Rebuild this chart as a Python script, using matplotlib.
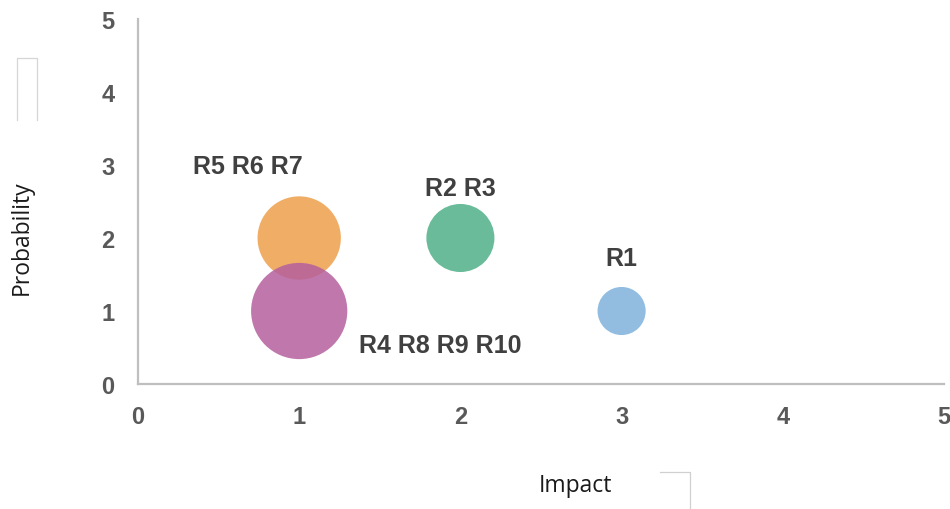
import numpy as np
import matplotlib
matplotlib.use("Agg")
import matplotlib.pyplot as plt
from matplotlib.lines import Line2D

# Risk bubbles: impact (x), probability (y), number of risks (bubble area)
labels = ["R1", "R2 R3", "R5 R6 R7", "R4 R8 R9 R10"]
impact = [3, 2, 1, 1]
probability = [1, 2, 2, 1]
risk_count = [1, 2, 3, 4]
colors = ["#7FB2DC", "#4FB088", "#EE9F4A", "#B5609E"]
ticks = [0, 1, 2, 3, 4, 5]

fig = plt.figure(figsize=(9.5, 5.1), dpi=100)
ax = fig.add_axes([138 / 950, 125 / 510, 806 / 950, 365 / 510])

area_per_risk = 1200
ax.scatter(impact, probability, s=[c * area_per_risk for c in risk_count],
           c=colors, alpha=0.85, linewidths=0, zorder=3)

label_style = dict(fontsize=18, fontweight="bold", color="#404040",
                   family="Liberation Sans")
# Label placement in data offsets from each bubble centre
offsets = [(0.0, 0.73, "center"), (0.0, 0.69, "center"),
           (-0.32, 0.98, "center"), (0.37, -0.47, "left")]
for lab, x, y, (dx, dy, ha) in zip(labels, impact, probability, offsets):
    ax.text(x + dx, y + dy, lab, ha=ha, va="center", **label_style)

ax.set_xlim(0, 5)
ax.set_ylim(0, 5)
ax.set_xticks(ticks)
ax.set_yticks(ticks)
ax.tick_params(length=0, labelsize=17, labelcolor="#595959")
ax.tick_params(axis="x", pad=15)
ax.tick_params(axis="y", pad=17)
for lbl in ax.get_xticklabels() + ax.get_yticklabels():
    lbl.set_fontweight("bold")
    lbl.set_family("Liberation Sans")

for side in ("top", "right"):
    ax.spines[side].set_visible(False)
for side in ("left", "bottom"):
    ax.spines[side].set_color("#BFBFBF")
    ax.spines[side].set_linewidth(1.6)

fig.text(575 / 950, 1 - 486 / 510, "Impact", ha="center", va="center",
         fontsize=16.5, color="#1a1a1a", family="Open Sans")
fig.text(22 / 950, 1 - 238 / 510, "Probability", ha="center", va="center",
         rotation=90, fontsize=16.5, color="#1a1a1a", family="Open Sans")


def px_line(xs, ys, color):
    fig.add_artist(Line2D([x / 950 for x in xs], [1 - y / 510 for y in ys],
                          transform=fig.transFigure, color=color,
                          linewidth=0.9))


# Thin frame fragments beside the axis titles
px_line([16.5, 16.5, 36.5, 36.5], [121, 59, 59, 121], "#D6D6D6")
px_line([660, 689.5, 689.5], [472.5, 472.5, 510], "#D0D0D0")

fig.savefig("out.png", dpi=100)
